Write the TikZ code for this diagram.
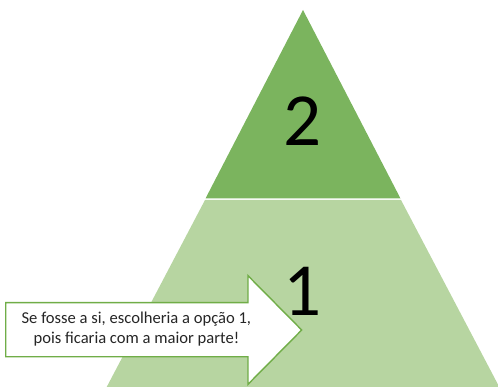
\documentclass[tikz,border=0pt]{standalone}
\usepackage{fontspec}
\setmainfont{Carlito}
\definecolor{darkgreen}{HTML}{7BB45E}
\definecolor{lightgreen}{HTML}{B7D5A1}
\definecolor{edgegreen}{HTML}{70AD47}
\tikzset{
  level/.style={draw=none},
  digit/.style={font=\fontsize{75}{80}\selectfont, text=black, inner sep=0pt},
  callout/.style={draw=edgegreen, line width=1.4pt, fill=white, line join=miter},
  callouttext/.style={font=\fontsize{16.6}{20}\selectfont, text=black!85, align=center, inner sep=0pt}
}
\begin{document}
\begin{tikzpicture}[x=1pt,y=-1pt]
\useasboundingbox (0,0) rectangle (498,387);
% lower level (trapezoid)
\fill[lightgreen, level] (205,200) -- (401,200) -- (499.3,387) -- (106.7,387) -- cycle;
% upper level (triangle)
\fill[darkgreen, level] (303,10) -- (400.5,198.5) -- (205.5,198.5) -- cycle;
% numbers
\node[digit] (two) at (302.8,121.2) {2};
\node[digit] (one) at (302.5,291) {1};
% arrow callout
\draw[callout] (5.7,302.7) -- (248,302.7) -- (248,275.7) -- (301.7,330) -- (248,384.3) -- (248,356.7) -- (5.7,356.7) -- cycle;
\node[callouttext] (note) at (136.4,329.5) {Se fosse a si, escolheria a opção 1,\\pois ficaria com a maior parte!};
\end{tikzpicture}
\end{document}
